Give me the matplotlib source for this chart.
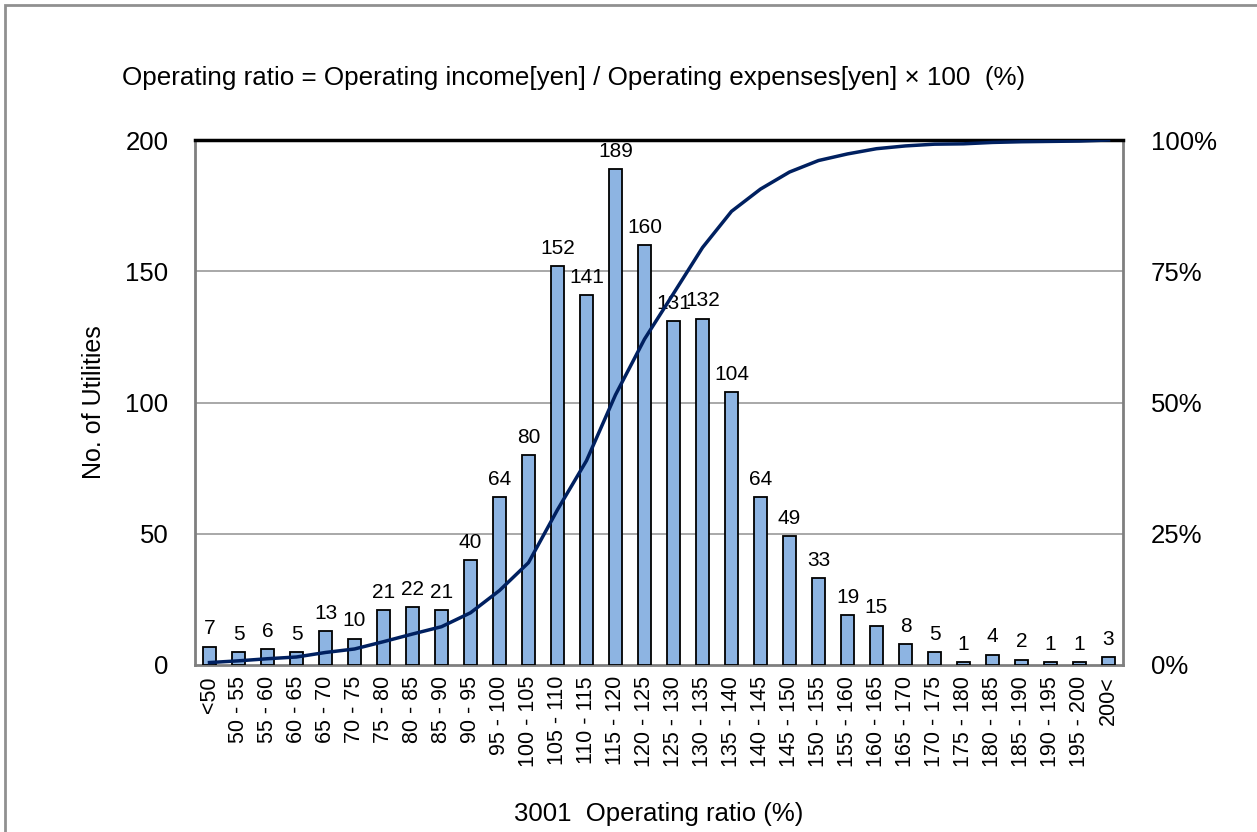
import numpy as np
import matplotlib.pyplot as plt
import matplotlib.patches as mpatches

plt.rcParams['font.family'] = ['Liberation Sans', 'DejaVu Sans']

# ── Data ─────────────────────────────────────────────────────────────────────
bins = ['<50', '50 - 55', '55 - 60', '60 - 65', '65 - 70', '70 - 75', '75 - 80',
        '80 - 85', '85 - 90', '90 - 95', '95 - 100', '100 - 105', '105 - 110',
        '110 - 115', '115 - 120', '120 - 125', '125 - 130', '130 - 135',
        '135 - 140', '140 - 145', '145 - 150', '150 - 155', '155 - 160',
        '160 - 165', '165 - 170', '170 - 175', '175 - 180', '180 - 185',
        '185 - 190', '190 - 195', '195 - 200', '200<']
counts = [7, 5, 6, 5, 13, 10, 21, 22, 21, 40, 64, 80, 152, 141, 189, 160,
          131, 132, 104, 64, 49, 33, 19, 15, 8, 5, 1, 4, 2, 1, 1, 3]

cum_pct = np.cumsum(counts) / np.sum(counts) * 100

# ── Figure ───────────────────────────────────────────────────────────────────
W, H = 1257, 832
fig = plt.figure(figsize=(W / 100, H / 100), dpi=100, facecolor='white')

# outer frame
fig.patches.append(mpatches.Rectangle((5 / W, -0.02), 1.1, 1 - 5 / H + 0.02,
                                      transform=fig.transFigure, fill=False,
                                      edgecolor='#909090', linewidth=2))

left, right, top, bottom = 195, 1123, 140, 665
ax = fig.add_axes([left / W, 1 - bottom / H, (right - left) / W, (bottom - top) / H])

x = np.arange(len(bins))
ax.bar(x, counts, width=0.45, color='#8DB4E2', edgecolor='black',
       linewidth=1.3, zorder=3)

for xi, c in zip(x, counts):
    ax.annotate(str(c), (xi, c), xytext=(0, 6), textcoords='offset points',
                ha='center', va='bottom', fontsize=15, zorder=5)

ax.set_xlim(-0.5, len(bins) - 0.5)
ax.set_ylim(0, 200)
ax.set_yticks([0, 50, 100, 150, 200])
ax.set_yticklabels(['0', '50', '100', '150', '200'], fontsize=18.5)
ax.tick_params(axis='y', length=0, pad=19)
ax.set_xticks(x)
ax.set_xticklabels(bins, rotation=90, fontsize=15.5)
ax.tick_params(axis='x', length=0, pad=8)

for yv in [50, 100, 150]:
    ax.axhline(yv, color='#999999', linewidth=1.2, zorder=1)

for s in ['left', 'right', 'bottom']:
    ax.spines[s].set_color('#7f7f7f')
    ax.spines[s].set_linewidth(2)
ax.spines['top'].set_color('black')
ax.spines['top'].set_linewidth(2.5)

ax.set_ylabel('No. of Utilities', fontsize=18)
ax.yaxis.set_label_coords(-0.096, 0.5)
ax.set_xlabel('3001  Operating ratio (%)', fontsize=18.5)
ax.xaxis.set_label_coords(0.5, -0.26)

# cumulative line on secondary axis
ax2 = ax.twinx()
ax2.plot(x, cum_pct, color='#002060', linewidth=2.5, zorder=4)
ax2.set_ylim(0, 100)
ax2.set_yticks([0, 25, 50, 75, 100])
ax2.set_yticklabels(['0%', '25%', '50%', '75%', '100%'], fontsize=18.5)
ax2.tick_params(axis='y', length=0, pad=20)
for s in ax2.spines.values():
    s.set_visible(False)

fig.text(122 / W, 1 - 78 / H,
         'Operating ratio = Operating income[yen] / Operating expenses[yen] \u00d7 100  (%)',
         fontsize=18.7, ha='left', va='center')

fig.savefig('out.png', dpi=100, facecolor='white')
